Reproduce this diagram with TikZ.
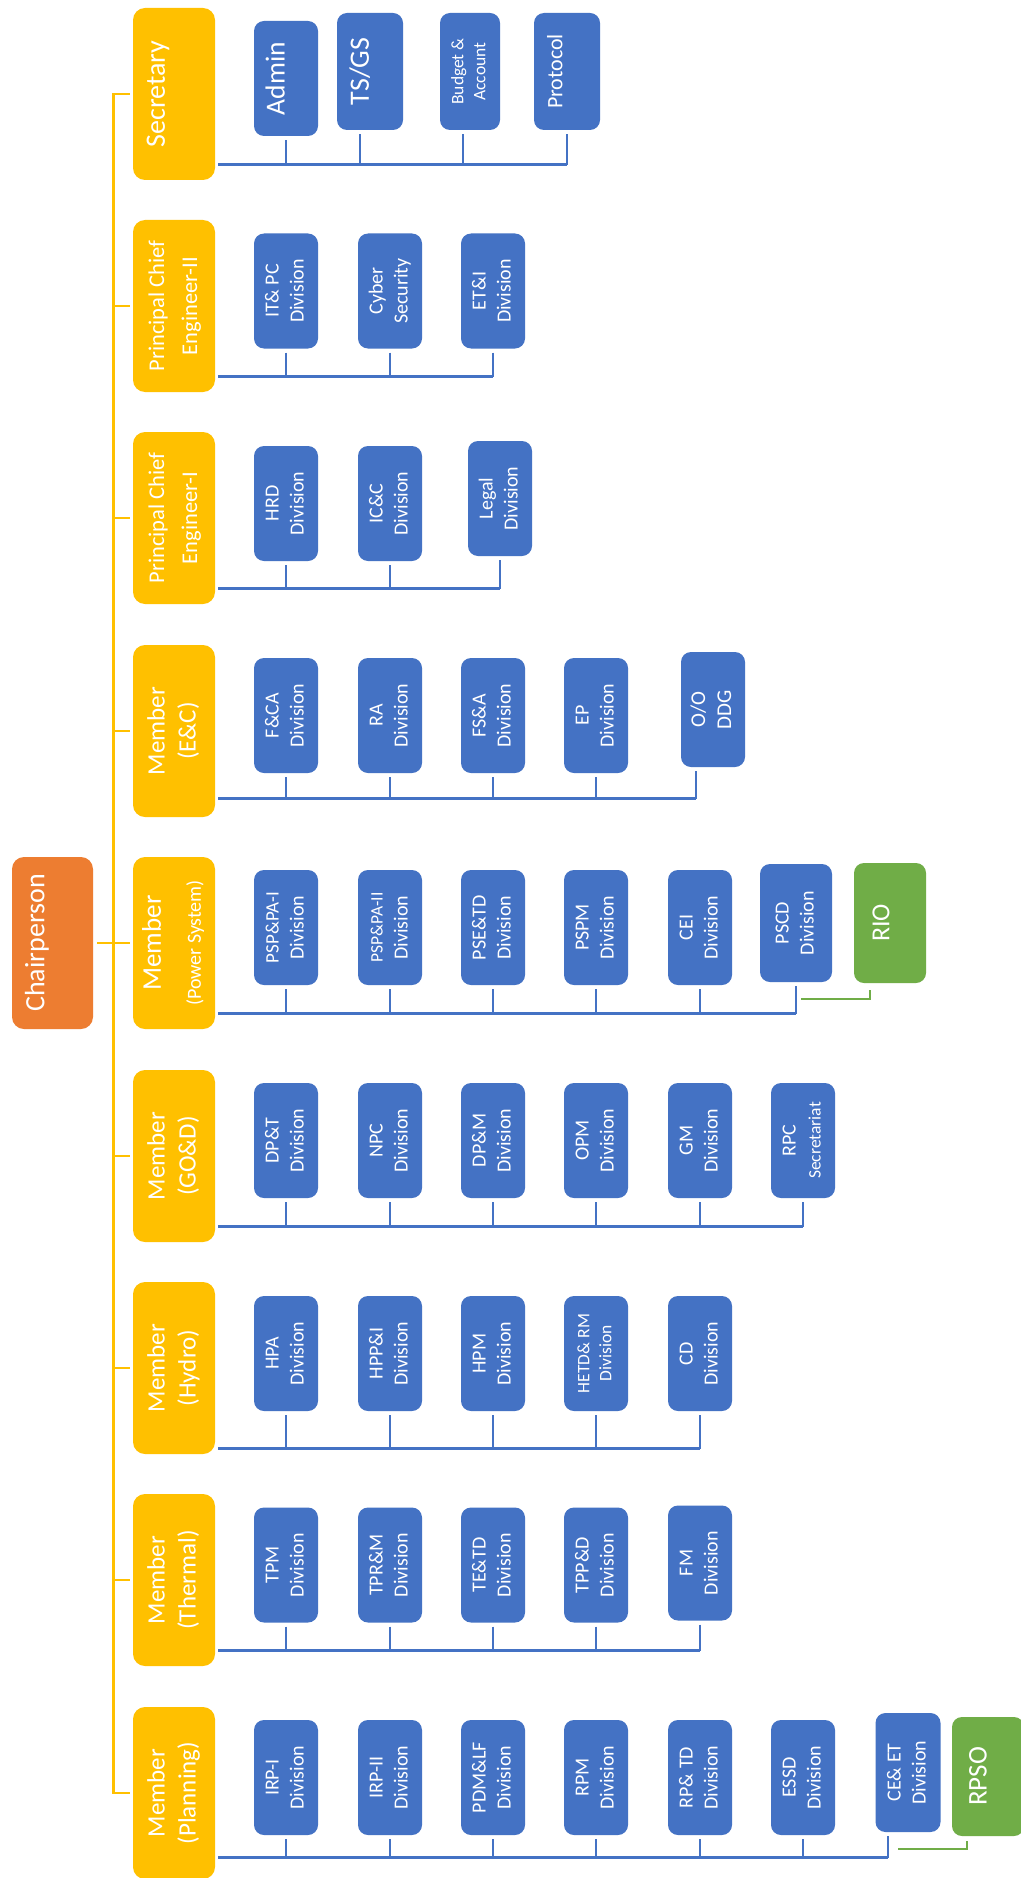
\documentclass[tikz,border=0pt]{standalone}
\usepackage{fontspec}
\setmainfont{Carlito}

\definecolor{chairor}{HTML}{ED7D31}
\definecolor{membgold}{HTML}{FFC000}
\definecolor{divblue}{HTML}{4472C4}
\definecolor{rogreen}{HTML}{70AD47}

% rotated box text, reading upwards; the optional space pushes it left
\newcommand{\side}[2][0pt]{\rotatebox{90}{\begin{tabular}{@{}c@{}}#2\end{tabular}}\hspace*{#1}}

\tikzset{
  chief/.style={fill=chairor, rounded corners=12pt, minimum width=81pt, minimum height=172pt, inner sep=0pt, text=white, font=\fontsize{28}{34}\selectfont},
  member/.style={fill=membgold, rounded corners=12pt, minimum width=82pt, minimum height=172pt, inner sep=0pt, text=white, font=\fontsize{25}{31}\selectfont},
  division/.style={fill=divblue, rounded corners=10pt, minimum width=64pt, minimum height=115pt, inner sep=0pt, text=white, font=\fontsize{20}{25}\selectfont},
  regional/.style={fill=rogreen, rounded corners=10pt, minimum width=72pt, minimum height=120pt, inner sep=0pt, text=white, font=\fontsize{27}{33}\selectfont},
  trunk/.style={draw=membgold, line width=2.5pt},
  bus/.style={draw=divblue, line width=3pt},
  drop/.style={draw=divblue, line width=2pt, shorten <=4pt},
  tie/.style={draw=rogreen, line width=2pt},
}

\begin{document}
\begin{tikzpicture}[x=1pt, y=-1pt]
    \useasboundingbox[fill=white] (0,0) rectangle (1020,1878);

    % head and members
    \node[chief] (chair) at (52.5,943) {\side[30pt]{Chairperson}};
    \node[member, font=\fontsize{28}{34}\selectfont] (sec) at (174,94) {\side[32pt]{Secretary}};
    \node[member, font=\fontsize{22.5}{33}\selectfont] (pce2) at (174,306) {\side{Principal Chief\\Engineer-II}};
    \node[member, font=\fontsize{22.5}{33}\selectfont] (pce1) at (174,518) {\side{Principal Chief\\Engineer-I}};
    \node[member] (mec) at (174,731) {\side{Member\\(E\&C)}};
    \node[member, font=\fontsize{27}{34}\selectfont] (mps) at (174,943) {\side{Member\\[6pt]{\fontsize{20}{24}\selectfont(Power System)}}};
    \node[member] (mgd) at (174,1156) {\side{Member\\(GO\&D)}};
    \node[member] (mhy) at (174,1368) {\side{Member\\(Hydro)}};
    \node[member] (mth) at (174,1580) {\side{Member\\(Thermal)}};
    \node[member] (mpl) at (174,1793) {\side{Member\\(Planning)}};

    % secretary
    \node[division, font=\fontsize{27.5}{33}\selectfont] (adm) at (286,78.5) {\side[16pt]{Admin}};
    \node[division, minimum width=66pt, minimum height=117pt, font=\fontsize{28}{34}\selectfont] (tsgs) at (370,71.5) {\side[16pt]{TS/GS}};
    \node[division, minimum width=60pt, minimum height=117pt, font=\fontsize{17.5}{22}\selectfont] (bud) at (470,71.5) {\side{Budget \&\\Account}};
    \node[division, minimum width=66pt, minimum height=117pt, font=\fontsize{22}{27}\selectfont] (prot) at (567,71.5) {\side[20pt]{Protocol}};

    % principal chief engineers
    \node[division] (itpc) at (286,291) {\side{IT\& PC\\Division}};
    \node[division] (cyber) at (390,291) {\side{Cyber\\Security}};
    \node[division] (eti) at (493,291) {\side{ET\&I\\Division}};
    \node[division] (hrd) at (286,503.5) {\side{HRD\\Division}};
    \node[division] (icc) at (390,503.5) {\side{IC\&C\\Division}};
    \node[division] (legal) at (500,498.5) {\side{Legal\\Division}};

    % E&C
    \node[division] (fca) at (286,715.5) {\side{F\&CA\\Division}};
    \node[division] (ra) at (390,715.5) {\side{RA\\Division}};
    \node[division] (fsa) at (493,715.5) {\side{FS\&A\\Division}};
    \node[division] (ep) at (596,715.5) {\side{EP\\Division}};
    \node[division, font=\fontsize{21}{26}\selectfont] (ood) at (713,709.5) {\side{O/O\\DDG}};

    % power system
    \node[division] (psp1) at (286,927.5) {\side{{\fontsize{19}{24}\selectfont PSP\&PA-I}\\Division}};
    \node[division] (psp2) at (390,927.5) {\side{{\fontsize{17.5}{22}\selectfont PSP\&PA-II}\\Division}};
    \node[division] (pse) at (493,927.5) {\side{PSE\&TD\\Division}};
    \node[division] (pspm) at (596,927.5) {\side{PSPM\\Division}};
    \node[division] (cei) at (700,927.5) {\side{CEI\\Division}};
    \node[division, minimum width=72pt, minimum height=118pt] (pscd) at (796,923) {\side{PSCD\\Division}};
    \node[regional, font=\fontsize{26}{32}\selectfont] (rio) at (890,923) {\side[14pt]{RIO}};

    % GO&D
    \node[division] (dpt) at (286,1140.5) {\side{DP\&T\\Division}};
    \node[division] (npc) at (390,1140.5) {\side{NPC\\Division}};
    \node[division] (dpm) at (493,1140.5) {\side{DP\&M\\Division}};
    \node[division] (opm) at (596,1140.5) {\side{OPM\\Division}};
    \node[division] (gm) at (700,1140.5) {\side{GM\\Division}};
    \node[division] (rpc) at (803,1140.5) {\side{RPC\\{\fontsize{17.5}{22}\selectfont Secretariat}}};

    % hydro
    \node[division] (hpa) at (286,1353.5) {\side{HPA\\Division}};
    \node[division] (hpp) at (390,1353.5) {\side{HPP\&I\\Division}};
    \node[division] (hpm) at (493,1353.5) {\side{HPM\\Division}};
    \node[division, font=\fontsize{17.5}{22}\selectfont] (hetd) at (596,1353.5) {\side{HETD\& RM\\Division}};
    \node[division] (cd) at (700,1353.5) {\side{CD\\Division}};

    % thermal
    \node[division] (tpm) at (286,1565) {\side{TPM\\Division}};
    \node[division] (tpr) at (390,1565) {\side{TPR\&M\\Division}};
    \node[division] (tet) at (493,1565) {\side{TE\&TD\\Division}};
    \node[division] (tpp) at (596,1565) {\side{TPP\&D\\Division}};
    \node[division] (fm) at (700,1563) {\side{FM\\Division}};

    % planning
    \node[division] (irp1) at (286,1777.5) {\side{IRP-I\\Division}};
    \node[division] (irp2) at (390,1777.5) {\side{IRP-II\\Division}};
    \node[division] (pdm) at (493,1777.5) {\side{PDM\&LF\\Division}};
    \node[division] (rpm) at (596,1777.5) {\side{RPM\\Division}};
    \node[division] (rptd) at (700,1777.5) {\side{RP\& TD\\Division}};
    \node[division] (essd) at (803,1777.5) {\side{ESSD\\Division}};
    \node[division, minimum width=65pt, minimum height=119pt] (ceet) at (908,1772.5) {\side{CE\& ET\\Division}};
    \node[regional, minimum height=119pt] (rpso) at (988,1776.5) {\side[16pt]{RPSO}};

    % yellow trunk
    \coordinate (spine) at (113.5,943);
    \draw[trunk] ([xshift=-3pt]sec.west) -| (spine) |- ([xshift=-3pt]mpl.west);
    \foreach \m in {pce2,pce1,mec,mgd,mhy,mth} \draw[trunk] ([xshift=-3pt]\m.west) -| (spine);
    \draw[trunk] ([xshift=4pt]chair.east) -- ([xshift=-3pt]mps.west);

    % blue buses
    \coordinate (secbus) at ([shift={(3pt,16pt)}]sec.south east);
    \draw[bus] (secbus) -- (secbus -| prot.south);
    \draw[drop] (adm.south) |- (secbus);
    \draw[drop] ([xshift=-10pt]tsgs.south) |- (secbus);
    \draw[drop] ([xshift=-7pt]bud.south) |- (secbus);
    \draw[drop] (prot.south) |- (secbus);

    \coordinate (pce2bus) at ([shift={(3pt,16pt)}]pce2.south east);
    \draw[bus] (pce2bus) -- (pce2bus -| eti.south);
    \foreach \u in {itpc,cyber,eti} \draw[drop] (\u.south) |- (pce2bus);

    \coordinate (pce1bus) at ([shift={(3pt,16pt)}]pce1.south east);
    \draw[bus] (pce1bus) -- (pce1bus -| legal.south);
    \foreach \u in {hrd,icc,legal} \draw[drop] (\u.south) |- (pce1bus);

    \coordinate (mecbus) at ([shift={(3pt,19pt)}]mec.south east);
    \coordinate (oodfoot) at ([xshift=-17pt]ood.south);
    \draw[bus] (mecbus) -- (mecbus -| oodfoot);
    \foreach \u in {fca,ra,fsa,ep} \draw[drop] (\u.south) |- (mecbus);
    \draw[drop] (oodfoot) |- (mecbus);

    \coordinate (mpsbus) at ([shift={(3pt,16pt)}]mps.south east);
    \draw[bus] (mpsbus) -- (mpsbus -| pscd.south);
    \foreach \u in {psp1,psp2,pse,pspm,cei,pscd} \draw[drop] (\u.south) |- (mpsbus);

    \coordinate (mgdbus) at ([shift={(3pt,16pt)}]mgd.south east);
    \draw[bus] (mgdbus) -- (mgdbus -| rpc.south);
    \foreach \u in {dpt,npc,dpm,opm,gm,rpc} \draw[drop] (\u.south) |- (mgdbus);

    \coordinate (mhybus) at ([shift={(3pt,6pt)}]mhy.south east);
    \draw[bus] (mhybus) -- (mhybus -| cd.south);
    \foreach \u in {hpa,hpp,hpm,hetd,cd} \draw[drop] (\u.south) |- (mhybus);

    \coordinate (mthbus) at ([shift={(3pt,16pt)}]mth.south east);
    \draw[bus] (mthbus) -- (mthbus -| fm.south);
    \foreach \u in {tpm,tpr,tet,tpp,fm} \draw[drop] (\u.south) |- (mthbus);

    \coordinate (mplbus) at ([shift={(3pt,22pt)}]mpl.south east);
    \coordinate (ceetfoot) at ([xshift=-20pt]ceet.south);
    \draw[bus] (mplbus) -- (mplbus -| ceetfoot);
    \foreach \u in {irp1,irp2,pdm,rpm,rptd,essd} \draw[drop] (\u.south) |- (mplbus);
    \draw[drop] (ceetfoot) |- (mplbus);

    % green offices
    \draw[tie] ([shift={(5pt,-17pt)}]pscd.south) -| ([shift={(-20pt,-7pt)}]rio.south);
    \draw[tie] ([shift={(-10pt,-17pt)}]ceet.south) -| ([shift={(-21pt,-5pt)}]rpso.south);
\end{tikzpicture}
\end{document}
